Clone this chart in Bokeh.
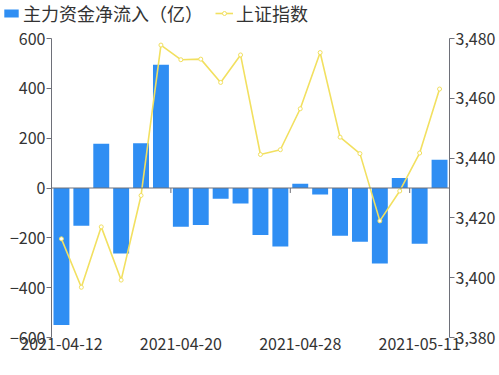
from bokeh.plotting import figure
from bokeh.layouts import column
from bokeh.models import (Range1d, LinearAxis, FixedTicker, NumeralTickFormatter,
                          Legend, LegendItem, Span, ColumnDataSource)
from bokeh.embed import file_html
from bokeh.resources import INLINE

dates = ["2021-04-12", "2021-04-13", "2021-04-14", "2021-04-15", "2021-04-16",
         "2021-04-19", "2021-04-20", "2021-04-21", "2021-04-22", "2021-04-23",
         "2021-04-26", "2021-04-27", "2021-04-28", "2021-04-29", "2021-04-30",
         "2021-05-06", "2021-05-07", "2021-05-10", "2021-05-11", "2021-05-12"]
flow = [-550, -152, 178, -263, 180, 495, -156, -148, -43, -62,
        -189, -235, 17, -26, -192, -216, -303, 40, -224, 113]
index_close = [3413.0, 3396.8, 3417.0, 3399.2, 3427.5, 3477.8, 3472.9, 3473.1, 3465.3, 3474.5,
               3441.2, 3442.8, 3456.5, 3475.3, 3447.0, 3441.5, 3419.0, 3429.0, 3441.7, 3463.1]
left_ticks = [-600, -400, -200, 0, 200, 400, 600]
right_ticks = [3380, 3400, 3420, 3440, 3460, 3480]
label_every = 6
series_names = ["主力资金净流入（亿）", "上证指数"]

FONT = "Noto Sans CJK SC"
TXT = "#333333"
AX = "#6E7079"
BAR = "#2f8ef3"
LINE = "#f2e060"
LEG_H = 26
W, H = 499, 375

xs = list(range(len(dates)))
src = ColumnDataSource(dict(x=xs, flow=flow, idx=index_close))

def no_align(fig):
    try:
        fig.frame_align = False
    except Exception:
        pass

# ---------- legend strip (its renderers share the data but lie outside its view) ----------
lg = figure(width=W, height=LEG_H, output_backend="svg", toolbar_location=None,
            x_range=Range1d(-1000, -999), y_range=Range1d(-1000, -999),
            min_border_left=2, min_border_right=0, min_border_top=0, min_border_bottom=0,
            x_axis_type=None, y_axis_type=None)
no_align(lg)
lg.outline_line_color = None
lg.xgrid.visible = False
lg.ygrid.visible = False
lb = lg.vbar(x="x", top="flow", width=0.8, source=src, fill_color=BAR, line_color=None)
ll = lg.line(x="x", y="idx", source=src, line_color=LINE, line_width=1.6)
lm = lg.scatter(x="x", y="idx", source=src, marker="circle", size=6,
                fill_color="white", line_color=LINE, line_width=1)
legend = Legend(items=[LegendItem(label=series_names[0], renderers=[lb]),
                       LegendItem(label=series_names[1], renderers=[ll, lm])],
                orientation="horizontal", location="top_left",
                label_text_font=FONT, label_text_font_size="18px", label_text_color=TXT,
                glyph_width=18, glyph_height=10, label_standoff=3, spacing=12,
                padding=0, margin=0, border_line_color=None, background_fill_alpha=0,
                label_height=18)
lg.add_layout(legend, "center")

# ---------- main chart (transparent, pulled up over the legend strip) ----------
p = figure(width=W, height=H, output_backend="svg", toolbar_location=None,
           x_range=Range1d(-0.5, len(dates) - 0.5),
           y_range=Range1d(left_ticks[0], left_ticks[-1]),
           min_border_left=51, min_border_right=50, min_border_top=38, min_border_bottom=38,
           x_axis_type=None, y_axis_type=None)
no_align(p)
p.margin = (-LEG_H, 0, 0, 0)
p.background_fill_alpha = 0
p.border_fill_alpha = 0
p.outline_line_color = None
p.xgrid.visible = False
p.ygrid.visible = False
p.extra_y_ranges = {"idx": Range1d(right_ticks[0], right_ticks[-1])}

xaxis = LinearAxis(ticker=FixedTicker(ticks=xs[::label_every]),
                   major_label_overrides={i: dates[i] for i in xs[::label_every]})
xaxis.axis_line_color = None
xaxis.major_tick_line_color = None
xaxis.minor_tick_line_color = None
xaxis.major_tick_out = 0
xaxis.major_tick_in = 0
xaxis.major_label_standoff = 0
p.add_layout(xaxis, "below")

laxis = LinearAxis(ticker=FixedTicker(ticks=left_ticks))
raxis = LinearAxis(y_range_name="idx", ticker=FixedTicker(ticks=right_ticks),
                   formatter=NumeralTickFormatter(format="0,0"))
for ax in (laxis, raxis):
    ax.axis_line_color = AX
    ax.major_tick_line_color = AX
    ax.major_tick_out = 5
    ax.major_tick_in = 0
    ax.minor_tick_line_color = None
    ax.major_label_standoff = 1
p.add_layout(laxis, "left")
p.add_layout(raxis, "right")

for ax in (xaxis, laxis, raxis):
    ax.major_label_text_font = FONT
    ax.major_label_text_font_size = "16px"
    ax.major_label_text_color = TXT

p.add_layout(Span(location=0, dimension="width", line_color=AX, line_width=1))
bx = [i - 0.5 for i in xs[::label_every]][1:]
p.segment(x0=bx, x1=bx, y0=[0] * len(bx), y1=[-20] * len(bx), line_color=AX, line_width=1)

p.vbar(x="x", top="flow", bottom=0, width=0.8, source=src, fill_color=BAR, line_color=None)
p.line(x="x", y="idx", source=src, y_range_name="idx", line_color=LINE, line_width=1.6)
p.scatter(x="x", y="idx", source=src, y_range_name="idx", marker="circle", size=4,
          fill_color="white", line_color=LINE, line_width=1)

layout = column(lg, p, spacing=0)
open("out.html", "w").write(file_html(layout, INLINE))
